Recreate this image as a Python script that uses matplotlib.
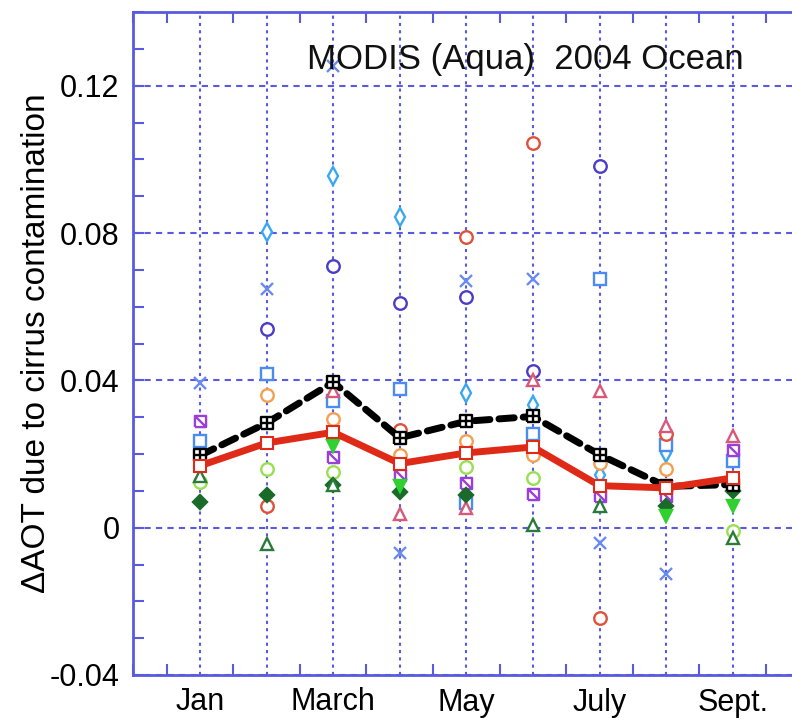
import numpy as np
import matplotlib.pyplot as plt
from matplotlib.path import Path
from matplotlib.ticker import MultipleLocator, FixedLocator

nan = np.nan
months = [1, 2, 3, 4, 5, 6, 7, 8, 9]
month_labels = ['Jan', '', 'March', '', 'May', '', 'July', '', 'Sept.']

# mean curves
mean_red = [0.0168, 0.0230, 0.0259, 0.0174, 0.0203, 0.0219, 0.0114, 0.0108, 0.0135]
mean_black = [0.0196, 0.0284, 0.0395, 0.0244, 0.0289, 0.0302, 0.0198, 0.0112, 0.0117]

# individual sites
site_x = [0.0393, 0.0648, 0.1253, -0.0068, 0.0669, 0.0674, -0.0042, -0.0125, nan]
site_cyan = [nan, 0.0802, 0.0954, 0.0844, 0.0366, 0.0334, 0.0144, 0.0203, nan]
site_navy = [nan, 0.0540, 0.0710, 0.0610, 0.0625, 0.0425, 0.0981, nan, nan]
site_blue_sq = [0.0234, 0.0416, 0.0343, 0.0377, 0.0067, 0.0253, 0.0674, 0.0225, 0.0180]
site_orange = [nan, 0.0361, 0.0295, 0.0196, 0.0234, 0.0196, 0.0176, 0.0158, nan]
site_red = [nan, 0.0058, nan, 0.0266, 0.0790, 0.1045, -0.0245, 0.0253, nan]
site_pink = [nan, nan, 0.0370, 0.0038, 0.0054, 0.0400, 0.0370, 0.0275, 0.0248]
site_purple = [0.0290, nan, 0.0192, 0.0144, 0.0121, 0.0092, 0.0085, 0.0087, 0.0212]
site_lime = [0.0123, 0.0158, 0.0150, nan, 0.0165, 0.0135, nan, nan, -0.0010]
site_dkgreen = [0.0069, 0.0090, 0.0117, 0.0096, 0.0090, nan, nan, 0.0058, 0.0099]
site_green_tri = [0.0139, -0.0043, 0.0117, nan, nan, 0.0008, 0.0058, nan, -0.0027]
site_green_v = [nan, nan, 0.0223, 0.0114, nan, nan, nan, 0.0031, 0.0058]

M, L = Path.MOVETO, Path.LINETO
sq = [(-1, -1), (1, -1), (1, 1), (-1, 1), (-1, -1)]
sq_codes = [M, L, L, L, L]
box_plus = Path(sq + [(0, -1), (0, 1), (-1, 0), (1, 0)],
                sq_codes + [M, L, M, L])
box_slash = Path(sq + [(-1, 1), (1, -1)], sq_codes + [M, L])

plt.rcParams['font.family'] = ['Liberation Sans', 'DejaVu Sans']
grid_c = '#5a5ae0'

fig = plt.figure(figsize=(7.92, 7.2), dpi=100)
ax = fig.add_axes([0.1684, 0.0625, 0.8409, 0.9208])

sites = [
    (site_x, 'x', '#6a8cf0', False, 9),
    (site_cyan, 'd', '#3aa8f0', False, 9),
    (site_navy, 'o', '#4a3cc8', False, 9),
    (site_blue_sq, 's', '#4a8cf0', False, 8),
    (site_orange, 'o', '#f4a050', False, 9),
    (site_red, 'o', '#e0503a', False, 9),
    (site_pink, '^', '#d85878', False, 9),
    (site_purple, box_slash, '#9a40d8', False, 8),
    (site_lime, 'o', '#98e050', False, 9),
    (site_dkgreen, 'D', '#1a6a2a', True, 7),
    (site_green_tri, '^', '#2a7a3a', False, 9),
    (site_green_v, 'v', '#30d030', True, 9),
]
for vals, mk, col, filled, ms in sites:
    ax.plot(months, vals, linestyle='none', marker=mk, markersize=ms,
            markeredgewidth=1.7, markeredgecolor=col,
            markerfacecolor=col if filled else 'white', zorder=3)

ax.plot(months, mean_black, color='black', lw=5, dashes=(2.2, 1.3),
        dash_capstyle='round', marker=box_plus, markersize=9,
        markerfacecolor='white', markeredgecolor='black',
        markeredgewidth=1.7, zorder=4)
ax.plot(months, mean_red, color='#e02a18', lw=5, marker='s', markersize=8,
        markerfacecolor='white', markeredgecolor='#e02a18',
        markeredgewidth=1.5, zorder=5)

ax.set_xlim(0, 10)
ax.set_ylim(-0.04, 0.14)

ax.xaxis.set_major_locator(FixedLocator(months))
ax.set_xticklabels(month_labels)
ax.xaxis.set_minor_locator(MultipleLocator(0.5))
ax.yaxis.set_minor_locator(MultipleLocator(0.01))
ax.set_yticks([-0.04, 0, 0.04, 0.08, 0.12])
ax.set_yticklabels(['-0.04', '0', '0.04', '0.08', '0.12'])

ax.tick_params(which='both', direction='in', color=grid_c, width=1.5,
               top=True, right=False, labelsize=22)
ax.tick_params(axis='x', which='major', length=0, pad=9)
ax.tick_params(axis='x', which='minor', length=8)
ax.tick_params(axis='y', which='both', length=8, pad=10)

for s in ax.spines.values():
    s.set_color(grid_c)
    s.set_linewidth(2)

ax.grid(True, axis='x', which='major', color=grid_c, lw=1.5,
        linestyle=(0, (1.5, 2)))
ax.grid(True, axis='y', which='major', color=grid_c, lw=1.5,
        linestyle=(0, (3, 2.5)))
ax.set_axisbelow(True)

ax.set_ylabel('ΔAOT due to cirrus contamination', fontsize=24, labelpad=-2)
ax.text(5.88, 0.127, 'MODIS (Aqua)  2004 Ocean', fontsize=25,
        ha='center', va='center', color='#111111')

fig.savefig('out.png', dpi=100)
